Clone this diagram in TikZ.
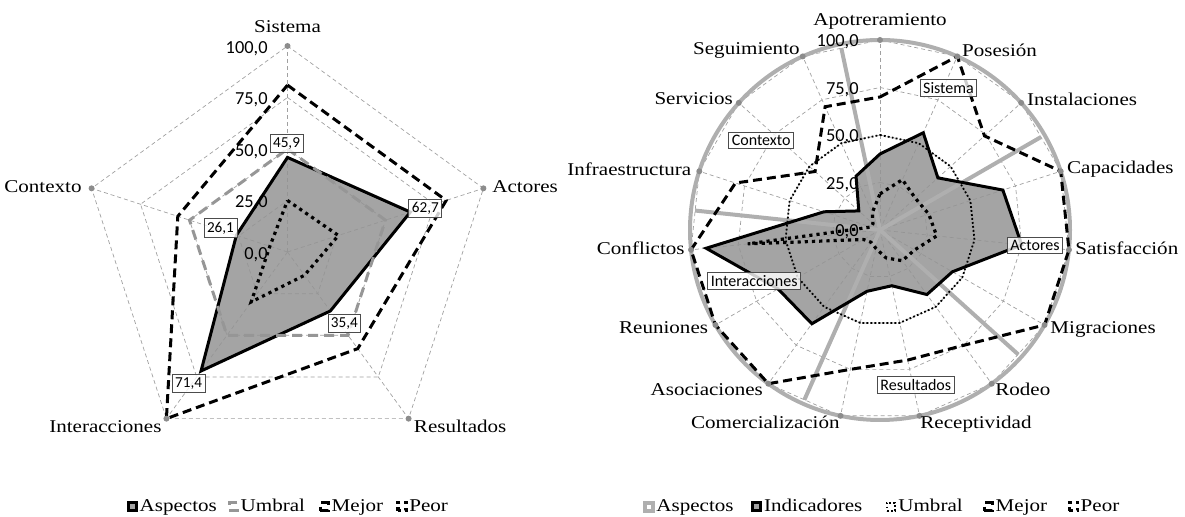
\documentclass[tikz,border=0pt]{standalone}
\usepackage{fontspec}
\setmainfont{Liberation Serif}[FakeStretch=1.17]
\newfontfamily\numfont{Carlito}
\usetikzlibrary{positioning,calc}

\definecolor{gridgray}{RGB}{160,160,160}
\definecolor{dotgray}{RGB}{140,140,140}
\definecolor{umbralgray}{RGB}{150,150,150}
\definecolor{aspgray}{RGB}{175,175,175}
\definecolor{areafill}{RGB}{148,148,148}

\tikzset{
  gridline/.style={gridgray, line width=0.35pt, dash pattern=on 2pt off 1.5pt},
  axisdot/.style={circle, fill=dotgray, inner sep=0pt, minimum size=3pt},
  catlabel/.style={font=\fontsize{9}{10}\selectfont, inner sep=0pt},
  scalelabel/.style={font=\numfont\fontsize{9.2}{10}\selectfont, inner sep=0pt, anchor=east},
  valbox/.style={draw=black!70, line width=0.4pt, fill=white, fill opacity=0.8, text opacity=1,
    font=\numfont\fontsize{7.6}{8}\selectfont, inner sep=1.5pt},
  grpbox/.style={valbox, font=\numfont\fontsize{8}{9}\selectfont},
  area/.style={fill=areafill, fill opacity=0.85, draw=black, line width=1.5pt, line join=miter},
  umbralL/.style={draw=umbralgray, line width=1.5pt, dash pattern=on 5pt off 3pt},
  mejor/.style={draw=black, line width=1.5pt, dash pattern=on 4.5pt off 2.5pt},
  peor/.style={draw=black, line width=1.6pt, dash pattern=on 1.6pt off 2pt},
  umbralR/.style={draw=black, line width=0.9pt, dash pattern=on 0.9pt off 1.1pt},
  aspectos/.style={draw=aspgray, line width=2pt},
  legbox/.style={minimum size=4pt, inner sep=0pt},
  legtext/.style={catlabel, anchor=base west},
}

\begin{document}
\begin{tikzpicture}[x=0.5pt,y=0.5pt]
\useasboundingbox (0,0) rectangle (1185,517);

% aspectos
\begin{scope}[shift={(287.5,265)}]
  \foreach \r in {25,50,75,100}
    \draw[gridline] (90:{\r*2.06}) \foreach \i in {1,...,4} { -- ({90-72*\i}:{\r*2.06}) } -- cycle;
  \foreach \i in {0,...,4}
    \draw[gridline] (0,0) -- ({90-72*\i}:206);

  \foreach \v [count=\i from 0] in {45.9,62.7,35.4,71.4,26.1}
    \coordinate (a\i) at ({90-72*\i}:{\v*2.06});
  \draw[area] (a0) -- (a1) -- (a2) -- (a3) -- (a4) -- cycle;
  \draw[umbralL] (90:103) \foreach \i in {1,...,4} { -- ({90-72*\i}:103) } -- cycle;
  \draw[mejor] (90:{81*2.06}) \foreach \v [count=\i] in {81,58,100,56} { -- ({90-72*\i}:{\v*2.06}) } -- cycle;
  \draw[peor] (90:{25*2.06}) \foreach \v [count=\i] in {26,14,30,9} { -- ({90-72*\i}:{\v*2.06}) } -- cycle;

  \foreach \i in {0,...,4}
    \node[axisdot] (ld\i) at ({90-72*\i}:206) {};
  \foreach \i/\t/\anc/\dx/\dy in {0/Sistema/base/0/13, 1/Actores/base west/8.6/-4.3,
      2/Resultados/base west/5/-13.9, 3/Interacciones/base east/-4.5/-13.9, 4/Contexto/base east/-9.6/-4.3}
    \node[catlabel, anchor=\anc] (ll\i) at ($(ld\i)+(\dx,\dy)$) {\t};

  \foreach \r in {0,25,50,75,100}
    \node[scalelabel] (ls\r) at (-19.5,{\r*2.06-2.5}) {\r,0};

  \node[valbox] (v0) at ($(a0)+(-1,14.1)$) {45,9};
  \node[valbox] (v1) at ($(a1)+(15,3.8)$) {62,7};
  \node[valbox] (v2) at ($(a2)+(14,-12.3)$) {35,4};
  \node[valbox] (v3) at ($(a3)+(-12.5,-12.3)$) {71,4};
  \node[valbox] (v4) at ($(a4)+(-15.9,7.4)$) {26,1};
\end{scope}

% indicadores
\begin{scope}[shift={(880,287)}]
  \foreach \r in {25,50,75,100}
    \draw[gridline] (90:{\r*1.9}) \foreach \i in {1,...,14} { -- ({90-24*\i}:{\r*1.9}) } -- cycle;
  \foreach \i in {0,...,14}
    \draw[gridline] (0,0) -- ({90-24*\i}:190);

  \foreach \v [count=\i from 0] in {40,56,41,68,75,44,42,30,33,61,62,92,31,15,31}
    \coordinate (b\i) at ({90-24*\i}:{\v*1.9});
  \fill[areafill, fill opacity=0.85] (b0) \foreach \i in {1,...,14} { -- (b\i) } -- cycle;
  \draw[aspectos] (0,0) circle (190);
  \foreach \a in {102,30,-42,-114,174}
    \draw[aspectos] (0,0) -- (\a:186);
  \draw[black, line width=1.5pt, line join=miter] (b0) \foreach \i in {1,...,14} { -- (b\i) } -- cycle;
  \draw[umbralR] (90:95) \foreach \i in {1,...,14} { -- ({90-24*\i}:95) } -- cycle;
  \draw[mejor] (90:{70*1.9}) \foreach \v [count=\i] in {100,74,100,100,100,75,70,75,100,100,100,80,46,71}
    { -- ({90-24*\i}:{\v*1.9}) } -- cycle;
  \draw[peor] (90:{19*1.9}) \foreach \v [count=\i] in {29,25,27,30,21,20,15,10,8,10,70,5,5,10}
    { -- ({90-24*\i}:{\v*1.9}) } -- cycle;

  \foreach \i in {0,...,14}
    \node[axisdot] (rd\i) at ({90-24*\i}:190) {};
  \foreach \i/\t/\anc/\dx/\dy in {0/Apotreramiento/base/0/14, 1/Posesión/base west/4.4/0.4,
      2/Instalaciones/base west/5.5/-3, 3/Capacidades/base west/6/-2.3, 4/Satisfacción/base west/6/-4.7,
      5/Migraciones/base west/5.5/-8.6, 6/Rodeo/base west/3.3/-11.5, 7/Receptividad/base west/0.5/-12.8,
      8/Comercialización/base east/-0.5/-12.8, 9/Asociaciones/base east/-5/-11.5,
      10/Reuniones/base east/-7/-8.6, 11/Conflictos/base east/-6/-4.7,
      12/Infraestructura/base east/-7.6/-3.9, 13/Servicios/base east/-5.5/-1.7,
      14/Seguimiento/base east/-2.7/1.8}
    \node[catlabel, anchor=\anc] (rl\i) at ($(rd\i)+(\dx,\dy)$) {\t};

  \foreach \r in {0,25,50,75,100}
    \node[scalelabel] (rs\r) at (-21,{\r*1.9-2}) {\r,0};

  \node[grpbox] (gSis) at (68.5,142.3) {Sistema};
  \node[grpbox] (gAct) at (155,-15.5) {Actores};
  \node[grpbox] (gRes) at (35.8,-155) {Resultados};
  \node[grpbox] (gInt) at (-125.8,-51.2) {Interacciones};
  \node[grpbox] (gCon) at (-118.8,89.5) {Contexto};
\end{scope}

% leyendas
\foreach \x/\s/\t [count=\k] in {127.3/area/Aspectos, 228.3/umbralL/Umbral, 319.3/mejor/Mejor, 397/peor/Peor,
    644/aspectos/Aspectos, 751.7/area/Indicadores, 886/umbralR/Umbral, 983.3/mejor/Mejor, 1068.3/peor/Peor} {
  \node[legbox, \s] (lsq\k) at ({\x+5},10.3) {};
  \node[legtext] (ltx\k) at ({\x+12},5.5) {\t};
}
\end{tikzpicture}
\end{document}
